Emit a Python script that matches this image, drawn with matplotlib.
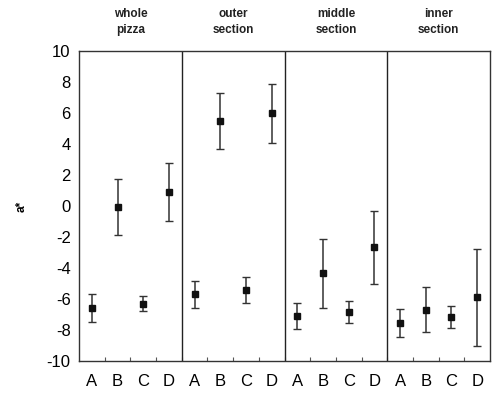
import matplotlib
matplotlib.use("Agg")
import matplotlib.pyplot as plt
import numpy as np

plt.rcParams['font.family'] = ['Liberation Sans', 'DejaVu Sans']
plt.rcParams['axes.unicode_minus'] = False

sections = ["whole\npizza", "outer\nsection", "middle\nsection", "inner\nsection"]
samples = ["A", "B", "C", "D"]

means = [
    [-6.6, -0.05, -6.3, 0.9],
    [-5.7, 5.5, -5.4, 6.0],
    [-7.1, -4.35, -6.85, -2.65],
    [-7.55, -6.7, -7.15, -5.9],
]
errs = [
    [0.9, 1.8, 0.5, 1.85],
    [0.85, 1.8, 0.85, 1.9],
    [0.85, 2.25, 0.7, 2.35],
    [0.9, 1.45, 0.7, 3.1],
]

fig = plt.figure(figsize=(4.92, 3.99), dpi=100)
ax = fig.add_axes([0.1606, 0.0952, 0.8354, 0.7768])

for i, sec in enumerate(sections):
    x = i * 4 + np.arange(4) + 0.5
    ax.errorbar(x, means[i], yerr=errs[i], fmt='s', color='#111111', ecolor='#333333',
                markersize=5, elinewidth=1.1, capsize=3, capthick=1.0)
    if i > 0:
        ax.axvline(i * 4, color='#222222', linewidth=1.0)
    ax.text(i * 4 + 2, 11.0, sec, ha='center', va='bottom', fontsize=8.5,
            fontweight='bold', linespacing=1.45, color='#222222')

ax.set_xlim(0, 16)
ax.set_ylim(-10, 10)
ax.set_yticks(np.arange(-10, 11, 2))
ax.set_xticks(np.arange(16) + 0.5)
ax.set_xticklabels(samples * 4, fontsize=12)
ax.set_xticks(np.arange(1, 16), minor=True)
ax.tick_params(axis='x', which='major', length=0, pad=9)
ax.tick_params(axis='x', which='minor', length=3, direction='in', width=0.8, color='#555555')
ax.tick_params(axis='y', length=0, labelsize=12, pad=6)
for s in ax.spines.values():
    s.set_color('#333333')
    s.set_linewidth(1.0)
ax.set_ylabel('a*', fontsize=8.5, fontweight='bold', labelpad=14)

fig.savefig('out.png', dpi=100)
